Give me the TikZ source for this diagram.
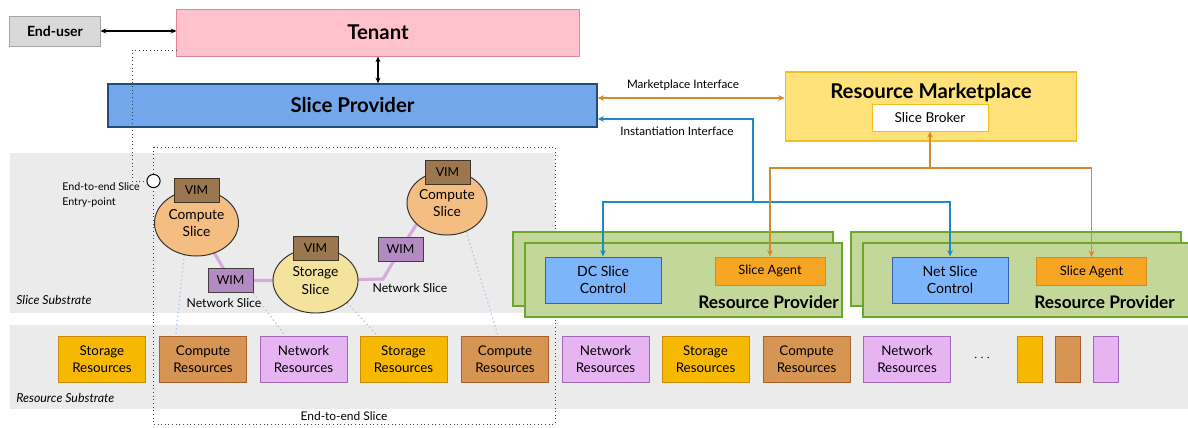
\documentclass[tikz,border=0pt]{standalone}
\usepackage{fontspec}
\setmainfont{Lato}
\usetikzlibrary{arrows.meta,shapes.geometric,calc}
\pgfdeclarelayer{back}
\pgfsetlayers{back,main}
\definecolor{userGray}{HTML}{D9D9D9}
\definecolor{userLine}{HTML}{A6A6A6}
\definecolor{tenantPink}{HTML}{FFC2CC}
\definecolor{tenantLine}{HTML}{E8839E}
\definecolor{provBlue}{HTML}{73A7EC}
\definecolor{provLine}{HTML}{1F4E79}
\definecolor{mktYellow}{HTML}{FFE27A}
\definecolor{mktLine}{HTML}{F5BE1E}
\definecolor{mktArrow}{HTML}{D48A25}
\definecolor{instArrow}{HTML}{1E88C8}
\definecolor{rpGreen}{HTML}{C3D79B}
\definecolor{rpLine}{HTML}{6AA72B}
\definecolor{ctlBlue}{HTML}{7DB5FA}
\definecolor{ctlLine}{HTML}{3365A5}
\definecolor{agentOrange}{HTML}{F6A623}
\definecolor{agentLine}{HTML}{D88A16}
\definecolor{storFill}{HTML}{F6B900}
\definecolor{storLine}{HTML}{C98C0A}
\definecolor{compFill}{HTML}{D69552}
\definecolor{compLine}{HTML}{A9602C}
\definecolor{netFill}{HTML}{E6B5F1}
\definecolor{netLine}{HTML}{A467B8}
\definecolor{compSlice}{HTML}{F4BE82}
\definecolor{storSlice}{HTML}{F4E39C}
\definecolor{vimFill}{HTML}{9B774F}
\definecolor{vimLine}{HTML}{3F3226}
\definecolor{wimFill}{HTML}{B38AC1}
\definecolor{wimLine}{HTML}{3F3F3F}
\definecolor{nsPurple}{HTML}{D8A8DE}
\definecolor{mapBlue}{HTML}{A8C6E4}
\definecolor{subGray}{HTML}{EBEBEB}
\begin{document}
\begin{tikzpicture}[x=0.025cm,y=-0.025cm,
 every node/.style={inner sep=0pt,align=center},
 boxed/.style={draw,rectangle,line width=0.7pt},
 bigbold/.style={font=\fontsize{14.5}{17}\selectfont\bfseries},
 userbox/.style={boxed,fill=userGray,draw=userLine,minimum width=2.25cm,minimum height=0.75cm,font=\fontsize{10}{12}\selectfont\bfseries},
 tenantbox/.style={boxed,fill=tenantPink,draw=tenantLine,minimum width=10.05cm,minimum height=1.175cm,bigbold},
 providerbox/.style={boxed,fill=provBlue,draw=provLine,line width=1pt,minimum width=12.225cm,minimum height=1.075cm,bigbold},
 marketbox/.style={boxed,fill=mktYellow,draw=mktLine,line width=1.2pt,minimum width=7.275cm,minimum height=1.725cm},
 brokerbox/.style={boxed,fill=white,draw=mktLine,minimum width=2.9cm,minimum height=0.675cm,font=\fontsize{9.7}{12}\selectfont},
 rpbox/.style={boxed,fill=rpGreen,draw=rpLine,line width=1.2pt,minimum height=1.85cm},
 rptext/.style={font=\fontsize{12.3}{14}\selectfont\bfseries},
 ctlbox/.style={boxed,fill=ctlBlue,draw=ctlLine,minimum width=2.9cm,minimum height=1.15cm,font=\fontsize{10}{12.5}\selectfont},
 agentbox/.style={boxed,fill=agentOrange,draw=agentLine,minimum width=2.75cm,minimum height=0.7cm,font=\fontsize{9.2}{11}\selectfont},
 resbox/.style={boxed,minimum width=2.175cm,minimum height=1.15cm,font=\fontsize{9.5}{12}\selectfont},
 storres/.style={resbox,fill=storFill,draw=storLine},
 compres/.style={resbox,fill=compFill,draw=compLine},
 netres/.style={resbox,fill=netFill,draw=netLine},
 slicenode/.style={ellipse,draw=black!80,line width=0.7pt,font=\fontsize{9.8}{12.5}\selectfont},
 vimbox/.style={boxed,fill=vimFill,draw=vimLine,minimum width=1.125cm,minimum height=0.6cm,font=\fontsize{8.8}{10}\selectfont},
 wimbox/.style={boxed,fill=wimFill,draw=wimLine,minimum width=1.125cm,minimum height=0.62cm,font=\fontsize{8.8}{10}\selectfont},
 smalltxt/.style={font=\fontsize{8.7}{10}\selectfont},
 ifacetxt/.style={font=\fontsize{8.3}{10}\selectfont},
 substxt/.style={font=\fontsize{8.8}{10}\selectfont\itshape,anchor=west},
 duplex/.style={line width=0.8pt,{Stealth[length=4pt,width=3.5pt]}-{Stealth[length=4pt,width=3.5pt]}},
 mktline/.style={draw=mktArrow,line width=1.1pt},
 instline/.style={draw=instArrow,line width=1.1pt},
 tip/.style={-{Stealth[length=4.5pt,width=4pt]}},
 e2edot/.style={draw=black!75,line width=0.6pt,dotted},
 nslink/.style={draw=nsPurple,line width=2.2pt},
 maplink/.style={draw=mapBlue,line width=0.9pt,dotted}]
\useasboundingbox (0,0) rectangle (1188,427);

\node[userbox] (user) at (55,31) {End-user};
\node[tenantbox] (tenant) at (378,32.5) {Tenant};
\node[providerbox] (provider) at (352.5,105.5) {Slice Provider};
\node[marketbox] (market) at (931,106.5) {};
\node[bigbold] (markettitle) at (931,93) {Resource Marketplace};
\node[brokerbox] (broker) at (930,117.5) {Slice Broker};

\draw[duplex] (user.east) -- (user.east -| tenant.west);
\draw[duplex] (tenant.south) -- (tenant.south |- provider.north);

\coordinate (mi) at (700,98);
\coordinate (ia) at (753,119);
\coordinate (ibus) at (753,202);
\coordinate (abus) at (930,168);
\draw[mktline,{Stealth[length=4.5pt,width=4pt]}-{Stealth[length=4.5pt,width=4pt]}] (provider.east |- mi) -- (market.west |- mi);
\node[ifacetxt] (mktlbl) at (683,85) {Marketplace Interface};
\draw[instline,{Stealth[length=4.5pt,width=4pt]}-] (provider.east |- ia) -- (ia) -- (ibus);
\node[ifacetxt] (instlbl) at (677,131) {Instantiation Interface};

\node[rpbox,minimum width=8cm] (rp1back) at (673,269) {};
\node[rpbox,minimum width=7.925cm] (rp1) at (683.5,280) {};
\node[rptext,anchor=base east] (rp1lbl) at (839,308) {Resource Provider};
\node[ctlbox] (dcctl) at (603,280) {DC Slice\\Control};
\node[agentbox] (agent1) at (770,271) {Slice Agent};

\node[rpbox,minimum width=8.25cm] (rp2back) at (1016,269) {};
\node[rpbox,minimum width=8.225cm] (rp2) at (1027.5,280) {};
\node[rptext,anchor=base east] (rp2lbl) at (1175,308) {Resource Provider};
\node[ctlbox] (netctl) at (950,280) {Net Slice\\Control};
\node[agentbox] (agent2) at (1091.5,271.5) {Slice Agent};

\draw[instline,tip] (ibus) -| (dcctl.north);
\draw[instline,tip] (ibus) -| (netctl.north);
\draw[mktline,tip] (abus) -- (broker.south);
\draw[mktline,tip] (abus) -| (agent1.north);
\draw[mktline,tip] (abus) -| (agent2.north);

\node[storres] (r1) at (102,359) {Storage\\Resources};
\node[compres] (r2) at (203,359) {Compute\\Resources};
\node[netres] (r3) at (303.5,359) {Network\\Resources};
\node[storres] (r4) at (403.5,359) {Storage\\Resources};
\node[compres] (r5) at (505,359) {Compute\\Resources};
\node[netres] (r6) at (605.5,359) {Network\\Resources};
\node[storres] (r7) at (705.5,359) {Storage\\Resources};
\node[compres] (r8) at (806.5,359) {Compute\\Resources};
\node[netres] (r9) at (907,359) {Network\\Resources};
\node[font=\fontsize{10}{12}\selectfont] (more) at (982,358) {$\cdots$};
\node[storres,minimum width=0.625cm] (r10) at (1029.5,359) {};
\node[compres,minimum width=0.625cm] (r11) at (1067.5,359) {};
\node[netres,minimum width=0.625cm] (r12) at (1105.5,359) {};

\node[slicenode,fill=compSlice,minimum width=2.1cm,minimum height=1.65cm] (cs1) at (196.5,223) {Compute\\Slice};
\node[vimbox] (vim1) at (196.5,190.5) {VIM};
\node[wimbox] (wim1) at (230.5,280.5) {WIM};
\node[smalltxt] (ns1) at (224,303) {Network Slice};
\node[slicenode,fill=storSlice,minimum width=2.125cm,minimum height=1.625cm] (ss) at (315.5,280.5) {Storage\\Slice};
\node[vimbox] (vim2) at (315.5,248.5) {VIM};
\node[wimbox] (wim2) at (400.5,249.5) {WIM};
\node[smalltxt] (ns2) at (410,288) {Network Slice};
\node[slicenode,fill=compSlice,minimum width=2cm,minimum height=1.6cm] (cs2) at (447,203) {Compute\\Slice};
\node[vimbox] (vim3) at (447.5,172) {VIM};
\coordinate (nsbend) at (383,279);

\node[draw,circle,fill=white,line width=0.7pt,minimum size=0.33cm] (entry) at (153.5,181) {};
\node[font=\fontsize{7.6}{10}\selectfont,align=left,anchor=west] (entrylbl) at (62,195) {End-to-end Slice\\Entry-point};
\coordinate (tapp) at (132,50);
\draw[e2edot] (tapp -| tenant.west) -- (tapp) |- (entry.west);

\node[substxt] (slicesub) at (16,300) {Slice Substrate};
\node[substxt] (ressub) at (16,398) {Resource Substrate};
\node[font=\fontsize{8.5}{10}\selectfont] (e2elbl) at (344,416) {End-to-end Slice};

\begin{pgfonlayer}{back}
\fill[subGray] (10,153) rectangle (555,313);
\fill[subGray] (10,325) rectangle (1188,409);
\draw[e2edot] (153,147) rectangle (555,424);
\draw[nslink] (cs1.center) -- (wim1.center) -- (ss.center);
\draw[nslink] (ss.center) -- (nsbend) -- (wim2.center) -- (cs2.215);
\draw[maplink] (cs1.249) -- ($(r2.north west)!0.19!(r2.north east)$);
\draw[maplink] (wim1.south east) -- ($(r3.north west)!0.29!(r3.north east)$);
\draw[maplink] (ss.325) -- ($(r4.north west)!0.2!(r4.north east)$);
\draw[maplink] (cs2.304) -- ($(r5.north west)!0.42!(r5.north east)$);
\end{pgfonlayer}

\end{tikzpicture}
\end{document}
